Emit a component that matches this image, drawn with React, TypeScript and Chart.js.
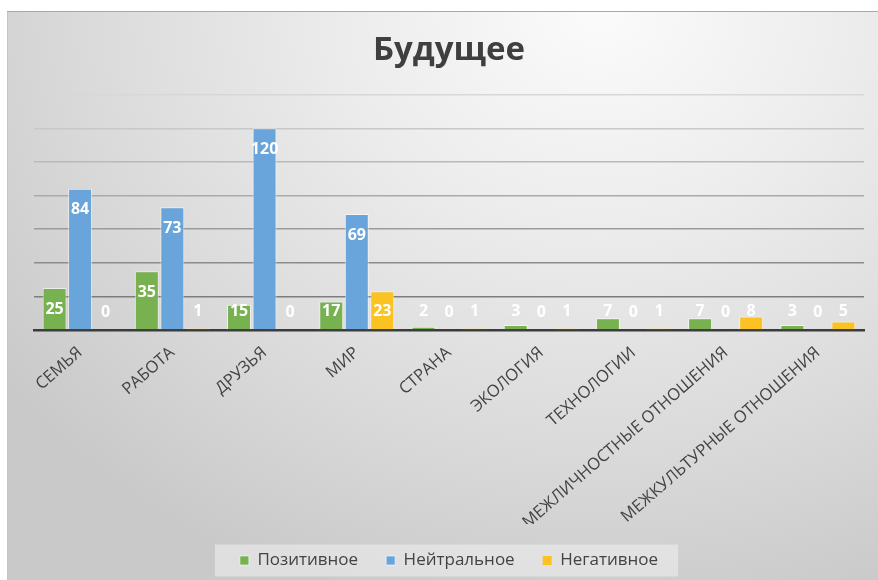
import React, { useEffect, useRef } from "react";
import { Chart, registerables } from "chart.js";

Chart.register(...registerables);

const TITLE = "Будущее";
const categories = [
  "СЕМЬЯ",
  "РАБОТА",
  "ДРУЗЬЯ",
  "МИР",
  "СТРАНА",
  "ЭКОЛОГИЯ",
  "ТЕХНОЛОГИИ",
  "МЕЖЛИЧНОСТНЫЕ ОТНОШЕНИЯ",
  "МЕЖКУЛЬТУРНЫЕ ОТНОШЕНИЯ",
];
const seriesNames = ["Позитивное", "Нейтральное", "Негативное"];
const positive = [25, 35, 15, 17, 2, 3, 7, 7, 3];
const neutral = [84, 73, 120, 69, 0, 0, 0, 0, 0];
const negative = [0, 1, 0, 23, 1, 1, 1, 8, 5];
const colors = ["#78b150", "#69a4da", "#fbc224"];
const yMax = 140;
const yStep = 20;

const FONT = "'Open Sans', 'Noto Sans', sans-serif";

const dataLabelPlugin = {
  id: "dataLabels",
  afterDatasetsDraw(chart: any) {
    const ctx = chart.ctx;
    ctx.save();
    ctx.font = `bold 16px ${FONT}`;
    ctx.fillStyle = "#ffffff";
    ctx.textAlign = "center";
    ctx.textBaseline = "middle";
    chart.data.datasets.forEach((ds: any, di: number) => {
      const meta = chart.getDatasetMeta(di);
      meta.data.forEach((el: any, i: number) => {
        const v = ds.data[i];
        const y = Math.min(el.y + 21, el.base - 18);
        ctx.fillText(String(v), el.x, y);
      });
    });
    ctx.restore();
  },
};

const legendBgPlugin = {
  id: "legendBg",
  beforeDraw(chart: any) {
    const lg = chart.legend;
    if (!lg || !lg.legendHitBoxes || !lg.legendHitBoxes.length) return;
    const boxes = lg.legendHitBoxes;
    const left = boxes[0].left - 25;
    const last = boxes[boxes.length - 1];
    const right = last.left + last.width + 20;
    const cy = boxes[0].top + boxes[0].height / 2;
    const ctx = chart.ctx;
    ctx.save();
    ctx.fillStyle = "rgba(240,240,240,0.55)";
    ctx.fillRect(left, cy - 16, right - left, 32);
    ctx.restore();
  },
};

export default function App() {
  const ref = useRef<HTMLCanvasElement>(null);
  useEffect(() => {
    if (!ref.current) return;
    const chart = new Chart(ref.current, {
      type: "bar",
      data: {
        labels: categories,
        datasets: [positive, neutral, negative].map((d, i) => ({
          label: seriesNames[i],
          data: d,
          backgroundColor: colors[i],
          borderColor: "rgba(255,255,255,0.6)",
          borderWidth: (c: any) => (c.raw === 0 ? 0 : 1),
          categoryPercentage: 0.83,
          barPercentage: 0.94,
        })),
      },
      plugins: [legendBgPlugin, dataLabelPlugin],
      options: {
        responsive: false,
        animation: false,
        devicePixelRatio: 1,
        layout: { padding: { left: 27, right: 14, top: 0, bottom: 1 } },
        scales: {
          x: {
            offset: true,
            grid: { display: false, drawTicks: false },
            border: { display: true, color: "#3c3c3c", width: 2.5 },
            ticks: {
              autoSkip: false,
              minRotation: 41,
              maxRotation: 41,
              padding: 13,
              color: "#434343",
              font: { family: FONT, size: 16.5 },
            },
            afterFit(scale: any) {
              scale.height = 194;
              scale.paddingLeft = 0;
              scale.paddingRight = 0;
            },
          },
          y: {
            min: 0,
            max: yMax,
            ticks: { display: false, stepSize: yStep },
            border: { display: false },
            grid: {
              drawTicks: false,
              lineWidth: 1.4,
              color: (c: any) => {
                const v = c.tick ? c.tick.value : 0;
                if (v === 0) return "rgba(0,0,0,0)";
                const g = Math.round(125 + ((v - yStep) / (yMax - yStep)) * 90);
                return `rgb(${g},${g},${g})`;
              },
            },
            afterFit(scale: any) {
              scale.width = 0;
            },
          },
        },
        plugins: {
          title: {
            display: true,
            text: TITLE,
            color: "#3f3f3f",
            font: { family: FONT, size: 33, weight: "bold" },
            padding: { top: 20, bottom: 24 },
          },
          legend: {
            position: "bottom",
            labels: {
              boxWidth: 9,
              boxHeight: 9,
              padding: 28,
              color: "#434343",
              font: { family: FONT, size: 17 },
            },
          },
          tooltip: { enabled: false },
        },
      },
    });
    return () => chart.destroy();
  }, []);

  return (
    <div
      style={{
        position: "fixed",
        left: 7,
        top: 11,
        width: 871,
        height: 569,
        overflow: "hidden",
        background:
          "radial-gradient(ellipse 85% 110% at 68% 0%, #fbfbfb 0%, #ececec 35%, #dadada 70%, #c9c9c9 100%)",
        boxShadow: "inset 0 1px 0 #a9a9a9, inset 1px 0 0 #c4c4c4",
      }}
    >
      <canvas ref={ref} width={871} height={569} style={{ display: "block" }} />
    </div>
  );
}
